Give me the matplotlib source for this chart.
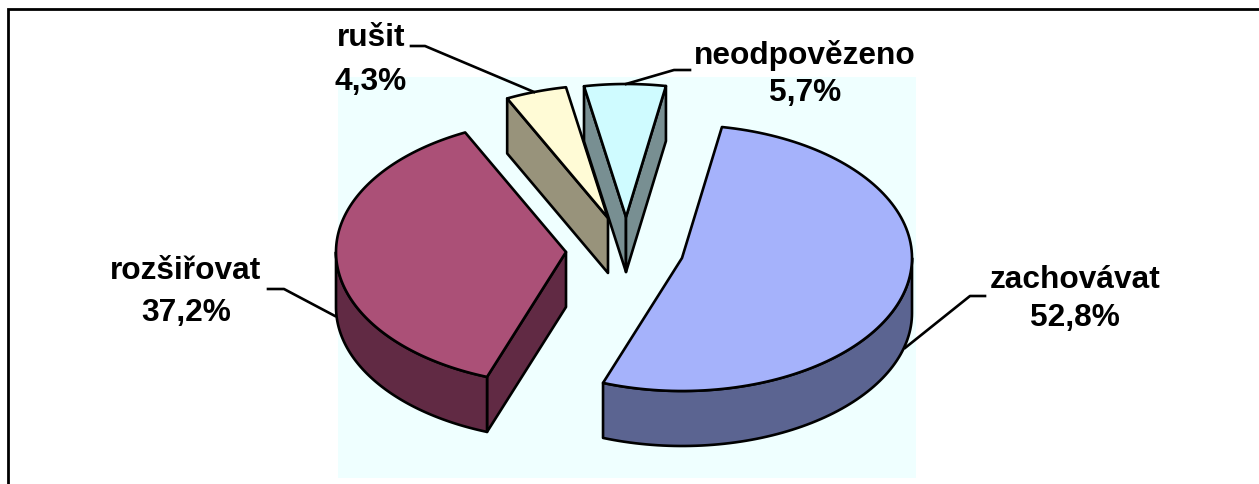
import numpy as np
import matplotlib
matplotlib.use('Agg')
from matplotlib import pyplot as plt
from matplotlib.patches import Polygon, Rectangle

labels = ['zachovávat', 'rozšiřovat', 'rušit', 'neodpovězeno']
values = [52.8, 37.2, 4.3, 5.7]

top_colors = ['#A5B2FB', '#AB5077', '#FFFBD6', '#CFFBFF']
side_colors = ['#5B6491', '#612A44', '#98937B', '#788F92']

# layout, everything in pixels of the 1259x484 picture
apex_x = [682, 566, 608, 626]
apex_y = [258, 252, 218, 217]
text_x = [1075, 186, 371, 805]
text_y = [299, 292, 60, 74]
text_gap = [1.31, 1.49, 1.59, 1.31]
leader_x = [[905, 970, 985], [335, 284, 268], [534, 425, 411], [626, 674, 690]]
leader_y = [[348, 296, 296], [316, 289, 289], [92, 46, 46], [84, 70, 70]]
RX, RY, DEPTH = 230, 133, 55
START = 10  # degrees clockwise from the top
LW = 1.9

plt.rcParams['font.family'] = ['Liberation Sans', 'DejaVu Sans']


def rim(cx, cy, ang):
    ang = np.radians(ang)
    return cx + RX*np.sin(ang), cy - RY*np.cos(ang)


def face(ax, xs, ys, color):
    ax.add_patch(Polygon(np.column_stack([xs, ys]), closed=True, fc=color,
                         ec='black', lw=LW, joinstyle='round'))


fig = plt.figure(figsize=(12.59, 4.84), dpi=100)
ax = fig.add_axes([0, 0, 1, 1])
ax.set_xlim(0, 1259)
ax.set_ylim(484, 0)
ax.axis('off')

ax.add_patch(Rectangle((338, 77), 578, 401, fc='#EFFFFF', ec='none'))
ax.plot([8, 8, 1259], [484, 9, 9], color='black', lw=2, solid_joinstyle='miter')

angle = START
for i in range(len(values)):
    a0 = angle
    a1 = angle + values[i]*3.6
    angle = a1
    cx, cy = apex_x[i], apex_y[i]

    # the two cut faces, only where they look towards the viewer
    if np.sin(np.radians(a0)) < 0:
        x, y = rim(cx, cy, a0)
        face(ax, [cx, x, x, cx], [cy, y, y+DEPTH, cy+DEPTH], side_colors[i])
    if np.sin(np.radians(a1)) > 0:
        x, y = rim(cx, cy, a1)
        face(ax, [cx, x, x, cx], [cy, y, y+DEPTH, cy+DEPTH], side_colors[i])

    # outer wall, front half only
    lo, hi = max(a0, 90), min(a1, 270)
    if hi > lo:
        t = np.linspace(lo, hi, 80)
        x, y = rim(cx, cy, t)
        face(ax, np.r_[x, x[::-1]], np.r_[y, y[::-1]+DEPTH], side_colors[i])

    # top
    t = np.linspace(a0, a1, 120)
    x, y = rim(cx, cy, t)
    face(ax, np.r_[cx, x], np.r_[cy, y], top_colors[i])

    ax.plot(leader_x[i], leader_y[i], color='black', lw=LW)
    txt = labels[i] + '\n' + ('%.1f%%' % values[i]).replace('.', ',')
    ax.text(text_x[i], text_y[i], txt, ha='center', va='center', fontsize=22.8,
            fontweight='bold', linespacing=text_gap[i])

fig.savefig('out.png', dpi=100)
